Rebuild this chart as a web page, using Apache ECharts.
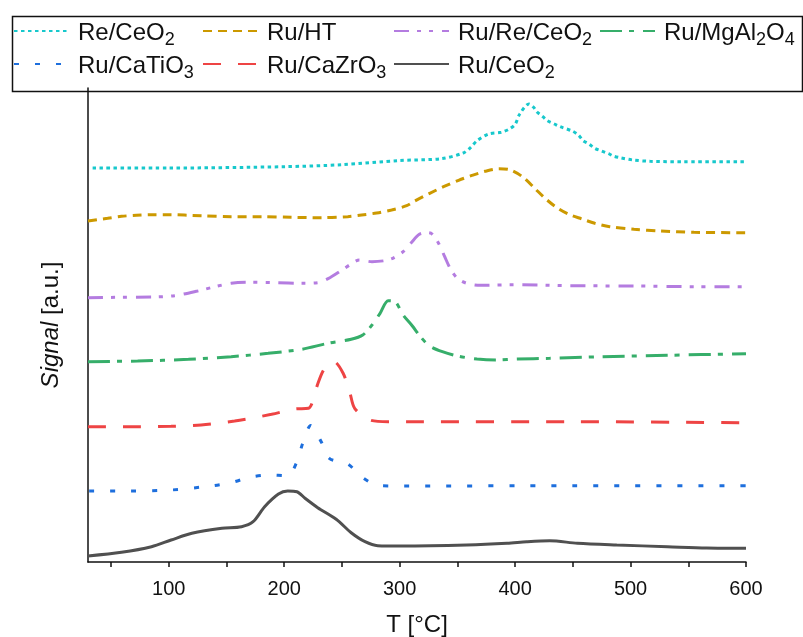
<!DOCTYPE html>
<html>
<head>
<meta charset="utf-8">
<script src="https://cdn.jsdelivr.net/npm/echarts@6/dist/echarts.min.js"></script>
<style>html,body{margin:0;padding:0;background:#fff}#c{width:803px;height:637px}</style>
</head>
<body>
<div id="c"></div>
<script>
// Series names
var seriesNames = ['Re/CeO2', 'Ru/HT', 'Ru/Re/CeO2', 'Ru/MgAl2O4', 'Ru/CaTiO3', 'Ru/CaZrO3', 'Ru/CeO2'];

// X tick labels / ticks
var xTickLabels = [100, 200, 300, 400, 500, 600];
var xTickMarks = [50, 100, 150, 200, 250, 300, 350, 400, 450, 500, 550, 600];

// Data (T [°C], signal in arbitrary units, stacked offsets included)
var reCeO2_T = [34, 100, 200, 250, 300, 336, 355, 361, 367, 377, 388, 395, 400, 404, 412, 416, 419, 424, 428, 434, 439, 450, 455, 459, 464, 469, 475, 481, 485, 491, 502, 517, 546, 600];
var reCeO2_S = [394, 394, 395.3, 397.3, 401.5, 403.3, 409, 414, 421.3, 428, 429.7, 433, 437.7, 448, 458, 454.7, 450, 445.3, 441.3, 438, 435.3, 430.7, 426.7, 421.3, 418, 413.7, 411, 408.3, 406, 404.3, 402, 400.7, 400.3, 400.3];

var ruHT_T = [30, 47, 59, 72, 85, 99, 128, 154, 180, 206, 232, 255, 267, 280, 293, 306, 313, 326, 338, 351, 362, 374, 386, 396, 407, 417, 425, 435, 446, 458, 469, 482, 503, 526, 555, 600];
var ruHT_S = [341, 343.7, 345.7, 346.7, 347.3, 347.3, 346.3, 345.3, 345.3, 344.7, 344.3, 345.3, 347, 349, 352, 356.3, 361, 368.7, 375.3, 381.7, 386.3, 390.7, 393.3, 392, 384.7, 373.7, 364.7, 355.3, 348, 343, 338.7, 335.3, 332.7, 331, 329.7, 329.3];

var ruReCeO2_T = [30, 59, 88, 105, 125, 140, 154, 169, 192, 215, 229, 238, 250, 258, 265, 276, 287, 294, 303, 310, 317, 324, 328, 334, 339, 344, 350, 358, 370, 399, 445, 503, 560, 600];
var ruReCeO2_S = [264.3, 264.7, 265, 266.3, 271, 275.3, 278.7, 279.7, 279.3, 278.7, 279.3, 283.3, 292, 298, 302, 300.3, 301.3, 303.7, 310.3, 319.3, 327.7, 329.3, 328, 318, 305.3, 293, 283.7, 278.7, 276.7, 277.3, 276.3, 276, 275.3, 275.3];

var ruMgAl2O4_T = [30, 73, 117, 154, 186, 215, 238, 258, 268, 276, 283, 290, 296, 303, 311, 318, 326, 337, 350, 367, 384, 402, 430, 474, 532, 600];
var ruMgAl2O4_S = [200.3, 201, 202.7, 205.3, 208.7, 212.7, 218.7, 222.7, 227, 237, 248.7, 261.3, 260.3, 247, 236, 225.3, 216, 210.3, 206, 203, 202, 203, 203.7, 205.3, 206.7, 208.3];

var ruCaZrO3_T = [30, 73, 102, 128, 157, 189, 209, 221, 224, 229, 235, 243, 251, 257, 261, 274, 290, 316, 450, 600];
var ruCaZrO3_S = [135.3, 135.3, 135.7, 137, 141, 147.7, 153, 153.7, 158.7, 178, 193.7, 200.3, 188.7, 168.7, 153.7, 142, 140.3, 140.3, 140.3, 139.3];

var ruCaTiO3_T = [31, 66, 102, 138, 156, 170, 188, 203, 211, 216, 223, 232, 239, 255, 268, 282, 300, 450, 600];
var ruCaTiO3_S = [71, 71, 72, 76.3, 80, 84.7, 87, 86.3, 100.3, 118.7, 136.5, 120.3, 103.7, 98, 84.3, 76.3, 76, 76.3, 76.3];

var ruCeO2_T = [30, 59, 85, 102, 120, 146, 163, 173, 183, 195, 203, 211, 218, 229, 245, 258, 270, 281, 301, 358, 393, 410, 430, 454, 488, 532, 566, 600];
var ruCeO2_S = [6, 9.7, 15.3, 22, 28.7, 33.7, 35.3, 40.3, 55.3, 68, 71, 70.3, 63.7, 54.3, 42.7, 29.3, 20.3, 16.3, 16, 17, 18.7, 20.3, 21.3, 18.7, 17, 15.3, 14, 13.7];

var seriesT = [reCeO2_T, ruHT_T, ruReCeO2_T, ruMgAl2O4_T, ruCaTiO3_T, ruCaZrO3_T, ruCeO2_T];
var seriesS = [reCeO2_S, ruHT_S, ruReCeO2_S, ruMgAl2O4_S, ruCaTiO3_S, ruCaZrO3_S, ruCeO2_S];

// Styles
var colors = ['#17C8CC', '#CC9900', '#B47CE0', '#36AE6A', '#1E6FDD', '#EE4444', '#505050'];
var dashes = [[3.5, 3.5], [9, 6], [15, 8, 4, 8, 4, 9], [22, 7, 5, 9], [5, 16], [18, 17], 'solid'];
var legendPos = [[13, 17], [202, 17], [393, 17], [599, 17], [13, 50], [202, 50], [393, 50]];

function zip(a, b) { return a.map(function (v, i) { return [v, b[i]]; }); }
function fmtName(n) { return '{n|' + n.replace(/(\d)/g, '}{s|$1}{n|') + '}{s| }'; }

var richSub = {
  n: { fontSize: 24, fontFamily: 'Liberation Sans', color: '#111', lineHeight: 28, verticalAlign: 'middle' },
  s: { fontSize: 18, fontFamily: 'Liberation Sans', color: '#111', lineHeight: 14, padding: [14, 0, 0, 0] }
};

var series = seriesNames.map(function (nm, i) {
  return {
    name: nm, type: 'line', symbol: 'none', smooth: 0.3,
    data: zip(seriesT[i], seriesS[i]),
    lineStyle: { color: colors[i], width: 3, type: dashes[i], cap: 'butt' },
    itemStyle: { color: colors[i] },
    emphasis: { disabled: true }, animation: false, z: 3
  };
});

var legends = seriesNames.map(function (nm, i) {
  return {
    data: [nm], left: legendPos[i][0], top: legendPos[i][1], padding: 0,
    itemWidth: 55, itemHeight: 14,
    itemStyle: { color: 'rgba(0,0,0,0)', borderWidth: 0, opacity: 0 },
    formatter: fmtName,
    textStyle: { rich: richSub, padding: [4, 0, 0, 4] },
    selectedMode: false
  };
});

var chart = echarts.init(document.getElementById('c'), null, { renderer: 'canvas' });
chart.setOption({
  animation: false,
  backgroundColor: '#fff',
  grid: { left: 88, right: 57, top: 88, bottom: 75, containLabel: false, outerBoundsMode: 'none' },
  legend: legends,
  xAxis: {
    type: 'value', min: 30, max: 600,
    name: 'T [°C]', nameLocation: 'middle', nameGap: 51,
    nameTextStyle: { fontSize: 24, fontFamily: 'Liberation Sans', color: '#111' },
    axisLine: { show: true, onZero: false, lineStyle: { color: '#111', width: 1.5 } },
    axisTick: { show: true, inside: false, length: 5, lineStyle: { color: '#111', width: 1.5 }, customValues: xTickMarks },
    axisLabel: { fontSize: 20, fontFamily: 'Liberation Sans', color: '#111', margin: 17, customValues: xTickLabels },
    splitLine: { show: false }
  },
  yAxis: {
    type: 'value', min: 0, max: 474,
    name: '{i|Signal} [a.u.]', nameLocation: 'middle', nameGap: 25, nameRotate: 90,
    nameTextStyle: { fontSize: 24, fontFamily: 'Liberation Sans', color: '#111', rich: { i: { fontStyle: 'italic', fontSize: 24, fontFamily: 'Liberation Sans', color: '#111' } } },
    axisLine: { show: true, lineStyle: { color: '#111', width: 1.5 } },
    axisTick: { show: false }, axisLabel: { show: false }, splitLine: { show: false }
  },
  graphic: [{
    type: 'rect', left: 10, top: 14, z: 10, silent: true,
    shape: { width: 790, height: 75 },
    style: { fill: 'none', stroke: '#111', lineWidth: 1.5 }
  }],
  series: series
});
</script>
</body>
</html>
